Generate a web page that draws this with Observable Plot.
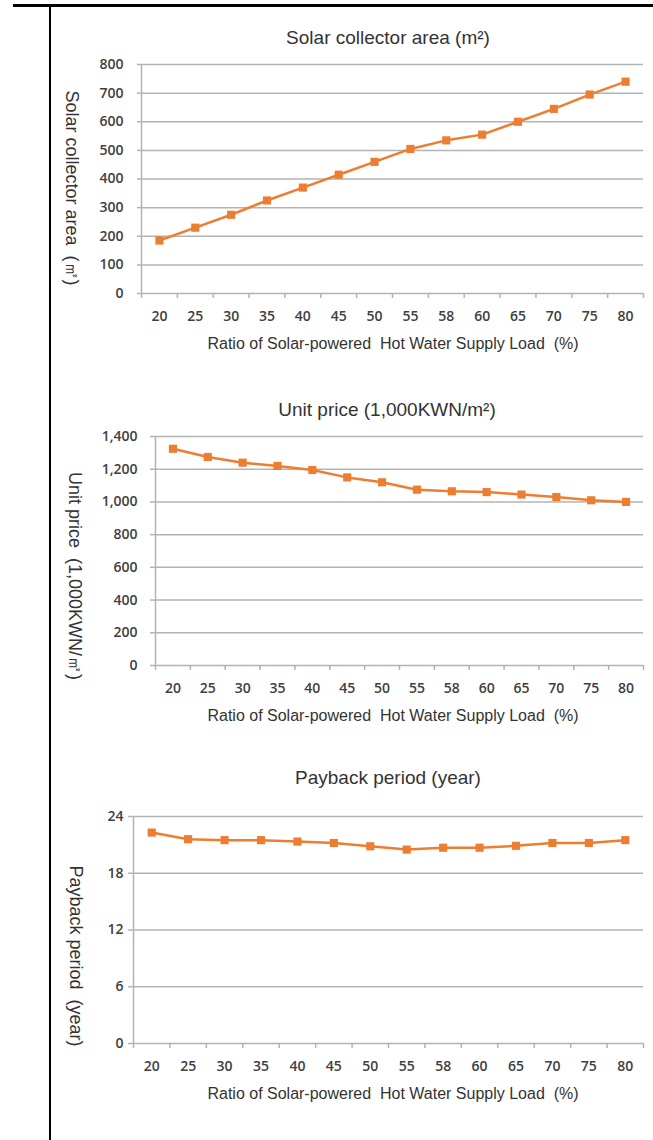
<!DOCTYPE html>
<html><head><meta charset="utf-8">
<script src="https://cdn.jsdelivr.net/npm/d3@7"></script>
<script src="https://cdn.jsdelivr.net/npm/@observablehq/plot@0.6"></script>
<style>
body{margin:0;background:#fff;}
#page{position:relative;width:653px;height:1140px;overflow:hidden;background:#fff;}
.line{position:absolute;background:#000;}
.lbl{position:absolute;white-space:pre;font-family:"Liberation Sans",Arial,sans-serif;color:#333;line-height:1;}
</style></head><body><div id="page"></div>
<script>
// ---- data ----
const ratios = ["20","25","30","35","40","45","50","55","58","60","65","70","75","80"];
const collectorArea = [185,230,275,325,370,415,460,505,535,555,600,645,695,740];
const unitPrice = [1325,1275,1240,1220,1195,1150,1120,1075,1065,1060,1045,1030,1010,1000];
const payback = [22.3,21.6,21.5,21.5,21.35,21.2,20.85,20.5,20.7,20.7,20.9,21.2,21.2,21.5];
const areaTicks = [0,100,200,300,400,500,600,700,800];
const priceTicks = [0,200,400,600,800,1000,1200,1400];
const paybackTicks = [0,6,12,18,24];
const titles = ["Solar collector area (m\u00B2)", "Unit price (1,000KWN/m\u00B2)", "Payback period (year)"];
const yLabels = ["Solar collector area  (\u33A1)", "Unit price  (1,000KWN/\u33A1)", "Payback period  (year)"];
const xTitle = "Ratio of Solar-powered  Hot Water Supply Load  (%)";

const page = document.getElementById("page");
const ORANGE = "#ED7D31", GRID = "#b3b3b3", TXT = "#404040";

function addDiv(cls, css, text) {
  const d = document.createElement("div");
  d.className = cls;
  Object.assign(d.style, css);
  if (text != null) d.textContent = text;
  page.appendChild(d);
  return d;
}
function addText(text, cx, cy, size, rotate) {
  addDiv("lbl", {left: cx + "px", top: cy + "px", fontSize: size + "px",
    transform: "translate(-50%,-50%)" + (rotate ? " rotate(" + rotate + "deg)" : "")}, text);
}

function chart(values, yTicks, yFormat, o) {
  const data = ratios.map((r, i) => ({i, r, v: values[i]}));
  const bounds = d3.range(ratios.length + 1).map(k => k - 0.5);
  const svg = Plot.plot({
    width: 653, height: o.height,
    marginTop: o.marginTop, marginBottom: o.marginBottom, marginLeft: o.marginLeft, marginRight: 10,
    style: {fontFamily: "'Open Sans', sans-serif", fontSize: "14px", background: "transparent", overflow: "visible"},
    x: {type: "linear", domain: [-0.5, ratios.length - 0.5], axis: null},
    y: {domain: [yTicks[0], yTicks[yTicks.length - 1]], axis: null},
    marks: [
      Plot.gridY(yTicks, {stroke: GRID, strokeOpacity: 1, strokeWidth: 1.5}),
      Plot.axisY(yTicks, {tickSize: o.yTickSize, stroke: GRID, strokeWidth: 1.5, tickFormat: () => "", label: null}),
      Plot.axisY(yTicks, {tickSize: 0, tickPadding: o.yTextPad, tickFormat: yFormat, color: TXT, fontWeight: 600, label: null}),
      Plot.ruleX([-0.5], {stroke: GRID, strokeWidth: 1.5}),
      Plot.axisX(bounds, {tickSize: 5, stroke: GRID, strokeWidth: 1.5, tickFormat: () => "", label: null}),
      Plot.axisX(d3.range(ratios.length), {tickSize: 0, tickPadding: 18, tickFormat: i => ratios[i], color: TXT, fontWeight: 600, label: null}),
      Plot.line(data, {x: "i", y: "v", stroke: ORANGE, strokeWidth: 2.5}),
      Plot.dot(data, {x: "i", y: "v", symbol: "square", r: 4.6, fill: ORANGE, stroke: "none"})
    ]
  });
  svg.style.position = "absolute";
  svg.style.left = "0px";
  svg.style.top = o.top + "px";
  page.appendChild(svg);
}

chart(collectorArea, areaTicks, d3.format("d"),
  {top: 50, height: 310, marginTop: 14, marginBottom: 67, marginLeft: 141, yTickSize: 4, yTextPad: 18});
chart(unitPrice, priceTicks, d3.format(","),
  {top: 420, height: 310, marginTop: 16, marginBottom: 65, marginLeft: 155, yTickSize: 5, yTextPad: 18});
chart(payback, paybackTicks, d3.format("d"),
  {top: 800, height: 310, marginTop: 16, marginBottom: 67, marginLeft: 133, yTickSize: 5, yTextPad: 10});

// titles
addText(titles[0], 388, 37, 19);
addText(titles[1], 387, 409, 19);
addText(titles[2], 388, 777, 19);
// x-axis titles
addText(xTitle, 393, 344, 16);
addText(xTitle, 393, 716, 16);
addText(xTitle, 393, 1094, 16);
// y-axis titles (rotated, reading downward)
addText(yLabels[0], 72, 188, 18, 90);
addText(yLabels[1], 75, 576, 18, 90);
addText(yLabels[2], 76, 956, 18, 90);

// table borders (drawn last so nothing covers them)
addDiv("line", {left: "13px", top: "4px", width: "640px", height: "3px"});
addDiv("line", {left: "49px", top: "5px", width: "2px", height: "1135px"});
</script></body></html>
